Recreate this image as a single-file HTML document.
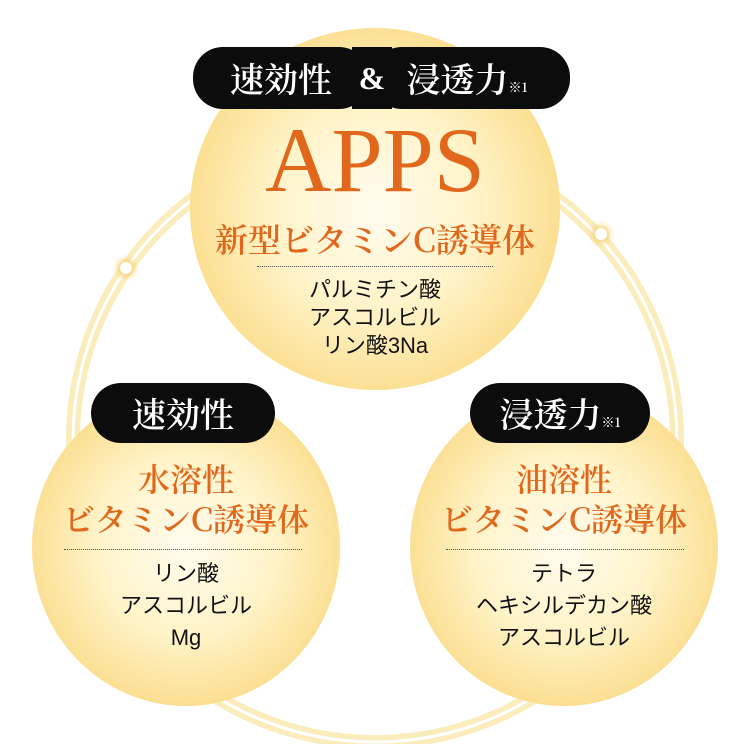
<!DOCTYPE html>
<html><head><meta charset="utf-8"><style>
body{margin:0;width:750px;height:744px;background:#fff;position:relative;overflow:hidden;font-family:"Liberation Sans","Noto Sans CJK JP",sans-serif}
.c{position:absolute;border-radius:50%;background:radial-gradient(circle at 50% 50%,#fffcef 0%,#fff3c8 40%,#fbe095 70%,#f4c650 90%,#f9df96 96%,rgba(255,255,255,0) 100%)}
.pill{position:absolute;background:#0c0c0c;color:#fff;border-radius:30px;font-family:"Noto Serif CJK SC","Liberation Serif",serif;font-weight:600;font-size:34px;text-align:center}
.o{position:absolute;color:#e0671c;font-family:"Noto Serif CJK SC","Liberation Serif",serif;font-weight:600;text-align:center;white-space:nowrap}
.k{position:absolute;color:#111;text-align:center;font-size:22px;line-height:28px;white-space:nowrap}
.l{position:absolute;border-top:1.5px dotted #555}
.d{position:absolute;width:12px;height:12px;border-radius:50%;background:#fff;box-shadow:0 0 6px 3px #f6d57a}
</style></head><body>
<svg width="750" height="744" style="position:absolute;left:0;top:0">
<circle cx="375" cy="440" r="302" fill="none" stroke="#f8dc85" stroke-width="14" opacity=".55"/>
<circle cx="375" cy="440" r="302" fill="none" stroke="#fff" stroke-width="3"/>
</svg>
<div class="d" style="left:120px;top:262px"></div>
<div class="d" style="left:595px;top:228px"></div>
<div class="c" style="left:190px;top:28px;width:370px;height:362px"></div>
<div class="c" style="left:32px;top:388px;width:308px;height:318px"></div>
<div class="c" style="left:410px;top:388px;width:308px;height:318px"></div>
<div class="pill" style="left:193px;top:47px;width:176px;height:62px;line-height:62px">速効性</div>
<div class="pill" style="left:372px;top:47px;width:198px;height:62px;line-height:62px;padding-right:8px;box-sizing:border-box">浸透力<span style="font-size:13px">※1</span></div>
<div style="position:absolute;left:352px;top:47px;width:40px;height:62px;line-height:62px;color:#fff;font-family:'Liberation Serif',serif;font-weight:bold;font-size:32px;text-align:center;background:#0c0c0c">&amp;</div>
<div class="o" style="left:190px;width:370px;top:110px;font-family:'Liberation Serif',serif;font-weight:normal;font-size:92px;line-height:100px">APPS</div>
<div class="o" style="left:190px;width:370px;top:218px;font-size:33px;line-height:42px">新型ビタミンC誘導体</div>
<div class="l" style="left:257px;top:266px;width:236px"></div>
<div class="k" style="left:190px;width:370px;top:276px">パルミチン酸<br>アスコルビル<br>リン酸3Na</div>
<div class="pill" style="left:91px;top:383px;width:184px;height:60px;line-height:60px">速効性</div>
<div class="pill" style="left:470px;top:383px;width:180px;height:60px;line-height:60px">浸透力<span style="font-size:13px">※1</span></div>
<div class="o" style="left:32px;width:308px;top:458px;font-size:32px;line-height:40px">水溶性<br>ビタミンC誘導体</div>
<div class="l" style="left:64px;top:549px;width:238px"></div>
<div class="k" style="left:32px;width:308px;top:558px;line-height:32px">リン酸<br>アスコルビル<br>Mg</div>
<div class="o" style="left:410px;width:308px;top:458px;font-size:32px;line-height:40px">油溶性<br>ビタミンC誘導体</div>
<div class="l" style="left:446px;top:549px;width:238px"></div>
<div class="k" style="left:410px;width:308px;top:558px;line-height:32px">テトラ<br>ヘキシルデカン酸<br>アスコルビル</div>
</body></html>
